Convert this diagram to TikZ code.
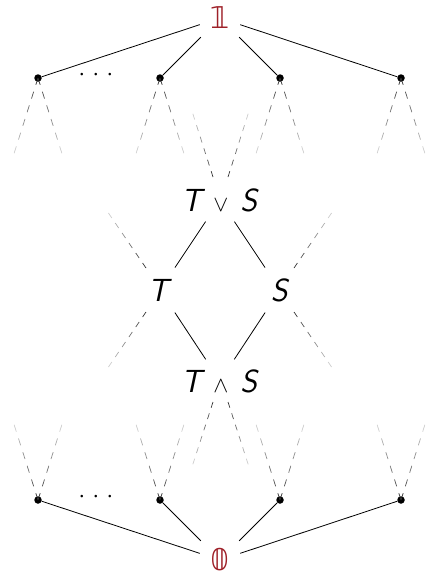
\documentclass[tikz,border=0pt]{standalone}
\usepackage{fontspec}
\newfontfamily\dsfont{DejaVu Sans}
\usetikzlibrary{calc}
\definecolor{topred}{RGB}{158,32,40}
\newcommand{\fadedash}[2]{%
  \foreach \k in {0,...,5}{%
    \pgfmathsetmacro\shade{80-12*\k}%
    \draw[black!\shade, line width=0.7pt]
      ($(#1)!{\k/6}!(#2)$) -- ($(#1)!{(\k+0.5)/6}!(#2)$);
  }}
\newcommand{\opsym}[1]{\resizebox{15pt}{!}{$#1$}}
\newcommand{\threedots}{\makebox[14pt][c]{·}\makebox[14pt][c]{·}\makebox[14pt][c]{·}}
\begin{document}
\begin{tikzpicture}[x=1pt,y=-1pt,
  font=\fontsize{32}{36}\selectfont,
  lab/.style={inner sep=0},
  dotnode/.style={circle,fill=black,inner sep=0,minimum size=7.5pt},
  bound/.style={minimum width=40pt,minimum height=38pt,inner sep=0,text=topred,font=\dsfont\fontsize{30}{34}\selectfont},
  edge/.style={line width=0.8pt}]
\useasboundingbox (0,0) rectangle (429,573);
% top and bottom
\node[bound] (top) at (220,18) {𝟙};
\node[bound] (bot) at (220,560) {𝟘};
% top row dots
\node[dotnode] (a1) at (38,78) {};
\node[dotnode] (a2) at (160,78) {};
\node[dotnode] (a3) at (280,78) {};
\node[dotnode] (a4) at (401,78) {};
\node[lab,anchor=base] (ell1) at (96,85) {\threedots};
% bottom row dots
\node[dotnode] (b1) at (38,500) {};
\node[dotnode] (b2) at (160,500) {};
\node[dotnode] (b3) at (280,500) {};
\node[dotnode] (b4) at (401,500) {};
\node[lab,anchor=base] (ell2) at (96,507) {\threedots};
% lattice
\node[lab] (tvs) at (220,200) {\textsf{\itshape T}\hspace{8pt}\opsym{\vee}\hspace{12pt}\textsf{\itshape S}};
\node[lab] (t) at (160,290) {\textsf{\itshape T}};
\node[lab] (s) at (280,290) {\textsf{\itshape S}};
\node[lab] (tws) at (220,381) {\textsf{\itshape T}\hspace{8pt}\opsym{\wedge}\hspace{12pt}\textsf{\itshape S}};
% solid edges
\foreach \n in {a1,a2,a3,a4} \draw[edge] (top) -- (\n);
\foreach \n in {b1,b2,b3,b4} \draw[edge] (bot) -- (\n);
\draw[edge,shorten <=26pt,shorten >=27pt] (tvs.center) -- (t.center);
\draw[edge,shorten <=26pt,shorten >=27pt] (tvs.center) -- (s.center);
\draw[edge,shorten <=26pt,shorten >=27pt] (tws.center) -- (t.center);
\draw[edge,shorten <=26pt,shorten >=27pt] (tws.center) -- (s.center);
% fading dashed ends
\foreach \n/\x in {a1/38,a2/160,a3/280,a4/401}{
  \coordinate (\n L) at (\x-26,160);
  \coordinate (\n R) at (\x+26,160);
  \fadedash{\n}{\n L}
  \fadedash{\n}{\n R}
}
\foreach \n/\x in {b1/38,b2/160,b3/280,b4/401}{
  \coordinate (\n L) at (\x-26,418);
  \coordinate (\n R) at (\x+26,418);
  \fadedash{\n}{\n L}
  \fadedash{\n}{\n R}
}
\coordinate (tvsLs) at (213,177); \coordinate (tvsLe) at (191,108);
\coordinate (tvsRs) at (228,177); \coordinate (tvsRe) at (250,108);
\fadedash{tvsLs}{tvsLe}
\fadedash{tvsRs}{tvsRe}
\coordinate (twsLs) at (213,402); \coordinate (twsLe) at (191,470);
\coordinate (twsRs) at (228,402); \coordinate (twsRe) at (250,470);
\fadedash{twsLs}{twsLe}
\fadedash{twsRs}{twsRe}
\coordinate (tUs) at (146,268); \coordinate (tUe) at (105,208);
\coordinate (tDs) at (146,312); \coordinate (tDe) at (105,372);
\coordinate (sUs) at (294,268); \coordinate (sUe) at (335,208);
\coordinate (sDs) at (294,312); \coordinate (sDe) at (335,372);
\fadedash{tUs}{tUe}
\fadedash{tDs}{tDe}
\fadedash{sUs}{sUe}
\fadedash{sDs}{sDe}
\end{tikzpicture}
\end{document}
